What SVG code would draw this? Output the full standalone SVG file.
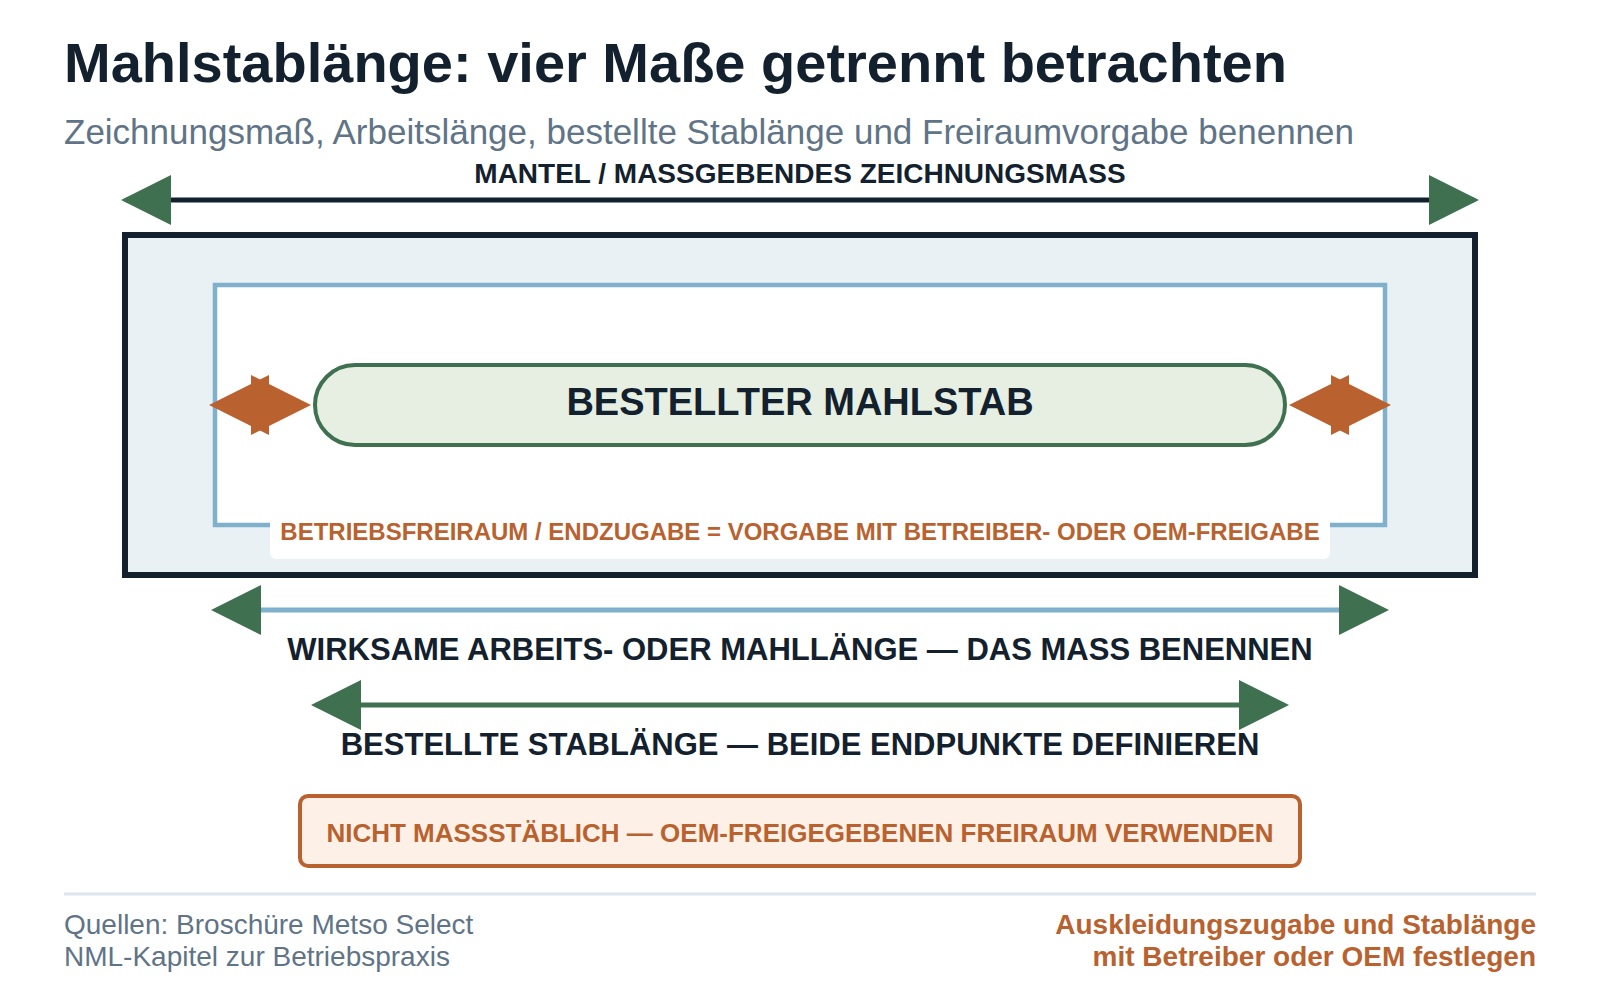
<svg xmlns="http://www.w3.org/2000/svg" width="1600" height="1000" viewBox="0 0 1600 1000">
  <style>
    text { font-family: "Liberation Sans", Arial, sans-serif; }
    .title { font-size: 56px; font-weight: bold; fill: #13212e; }
    .sub { font-size: 35px; fill: #5f7487; }
    .dim { font-size: 31px; font-weight: bold; fill: #13212e; text-anchor: middle; }
    .top { font-size: 28px; font-weight: bold; fill: #13212e; text-anchor: middle; }
    .orange { fill: #b9622f; font-weight: bold; text-anchor: middle; }
    .foot { font-size: 28px; fill: #5f7487; }
    .footr { font-size: 28px; font-weight: bold; fill: #b9622f; text-anchor: end; }
  </style>
  <defs>
    <marker id="ag" viewBox="0 0 10 10" refX="9" refY="5" markerWidth="10" markerHeight="10" markerUnits="strokeWidth" orient="auto-start-reverse">
      <path d="M0,0 L10,5 L0,10 z" fill="#3f7150"/>
    </marker>
    <marker id="ao" viewBox="0 0 10 10" refX="9" refY="5" markerWidth="10" markerHeight="10" markerUnits="strokeWidth" orient="auto-start-reverse">
      <path d="M0,0 L10,5 L0,10 z" fill="#b9622f"/>
    </marker>
  </defs>
  <rect width="1600" height="1000" fill="#ffffff"/>

  <g id="header">
    <text class="title" x="64" y="82">Mahlstablänge: vier Maße getrennt betrachten</text>
    <text class="sub" x="64" y="144">Zeichnungsmaß, Arbeitslänge, bestellte Stablänge und Freiraumvorgabe benennen</text>
  </g>

  <g id="mantel">
    <rect x="125" y="235" width="1350" height="340" fill="#e9f1f5" stroke="#13212e" stroke-width="6"/>
  </g>
  <g id="arbeitslaenge">
    <rect x="215" y="285" width="1170" height="240" fill="#ffffff" stroke="#7fb0cc" stroke-width="4.5"/>
  </g>
  <g id="mahlstab">
    <rect x="315" y="365" width="970" height="80" rx="40" ry="40" fill="#e6efe2" stroke="#3f7150" stroke-width="4"/>
    <text class="dim" x="800" y="415" style="font-size:38px">BESTELLTER MAHLSTAB</text>
  </g>
  <g id="freiraum-label">
    <rect x="270" y="503" width="1060" height="56" rx="6" ry="6" fill="#ffffff"/>
    <text class="orange" x="800" y="540" style="font-size:24px">BETRIEBSFREIRAUM / ENDZUGABE = VORGABE MIT BETREIBER- ODER OEM-FREIGABE</text>
  </g>

  <g id="connectors" fill="none">
    <line x1="126" y1="200" x2="1474" y2="200" stroke="#13212e" stroke-width="5" marker-start="url(#ag)" marker-end="url(#ag)"/>
    <line x1="215" y1="405" x2="305" y2="405" stroke="#b9622f" stroke-width="6" marker-start="url(#ao)" marker-end="url(#ao)"/>
    <line x1="1295" y1="405" x2="1385" y2="405" stroke="#b9622f" stroke-width="6" marker-start="url(#ao)" marker-end="url(#ao)"/>
    <line x1="216" y1="610" x2="1384" y2="610" stroke="#7fb0cc" stroke-width="5" marker-start="url(#ag)" marker-end="url(#ag)"/>
    <line x1="316" y1="705" x2="1284" y2="705" stroke="#3f7150" stroke-width="5" marker-start="url(#ag)" marker-end="url(#ag)"/>
  </g>

  <g id="labels">
    <text class="top" x="800" y="183">MANTEL / MASSGEBENDES ZEICHNUNGSMASS</text>
    <text class="dim" x="800" y="660">WIRKSAME ARBEITS- ODER MAHLLÄNGE — DAS MASS BENENNEN</text>
    <text class="dim" x="800" y="755">BESTELLTE STABLÄNGE — BEIDE ENDPUNKTE DEFINIEREN</text>
  </g>

  <g id="hinweis">
    <rect x="300" y="796" width="1000" height="70" rx="8" ry="8" fill="#fdf1e7" stroke="#b9622f" stroke-width="4"/>
    <text class="orange" x="800" y="842" style="font-size:26px">NICHT MASSSTÄBLICH — OEM-FREIGEGEBENEN FREIRAUM VERWENDEN</text>
  </g>

  <g id="footer">
    <line x1="64" y1="894" x2="1536" y2="894" stroke="#dde5ed" stroke-width="3"/>
    <text class="foot" x="64" y="934">Quellen: Broschüre Metso Select</text>
    <text class="foot" x="64" y="966">NML-Kapitel zur Betriebspraxis</text>
    <text class="footr" x="1536" y="934">Auskleidungszugabe und Stablänge</text>
    <text class="footr" x="1536" y="966">mit Betreiber oder OEM festlegen</text>
  </g>
</svg>
